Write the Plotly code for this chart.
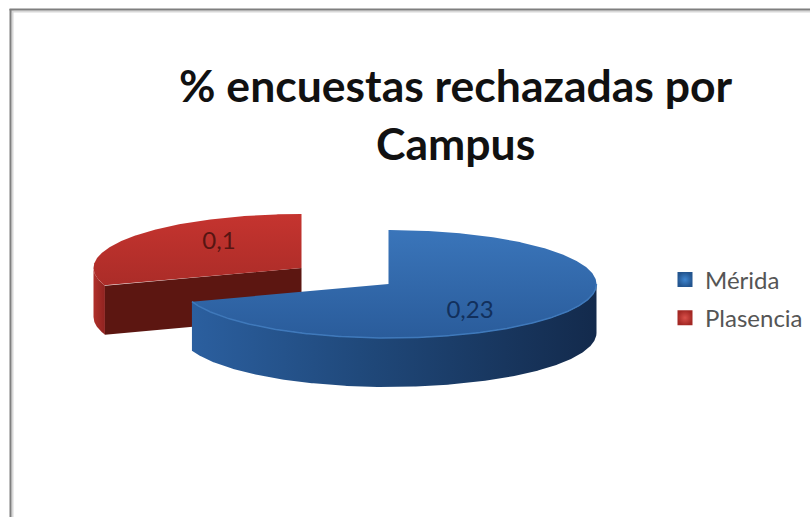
import math
import plotly.graph_objects as go

categories = ["Mérida", "Plasencia"]
values = [0.23, 0.1]
title_lines = ["% encuestas rechazadas por", "Campus"]

# Oblique-view pie geometry, in the pixel space of the hidden axes
RX, RY, DEPTH = 208, 54, 49
CENTERS = [(388.5, 284), (301.5, 268)]
LABEL_POS = [(470, 312), (219, 243)]
TOP_SCALES = [
    [[0, "#2a5c9b"], [1, "#3a75ba"]],
    [[0, "#ab2c28"], [1, "#c5342f"]],
]
WALL_SCALES = [
    [[0, "#2b5f9f"], [0.45, "#1f4778"], [1, "#132a4c"]],
    [[0, "#b0302b"], [1, "#8f2320"]],
]
CUT_COLOR = "#5c1611"
LEGEND_COLORS = ["#23558f", "#a32824"]
LEGEND_CENTERS = ["#3f86d0", "#d9504a"]
LABEL_COLORS = ["#12305c", "#571512"]

total = sum(values)
spans = []
start = 0.0
for v in values:
    spans.append((start, start + 360.0 * v / total))
    start += 360.0 * v / total


def pt(c, a, dz=0):
    r = math.radians(a)
    return c[0] + RX * math.sin(r), c[1] - RY * math.cos(r) + dz


def arc(c, a0, a1, dz=0):
    n = max(2, int(abs(a1 - a0)) * 2)
    pts = [pt(c, a0 + (a1 - a0) * i / n, dz) for i in range(n + 1)]
    return [p[0] for p in pts], [p[1] for p in pts]


def poly(xs, ys, **kw):
    return go.Scatter(x=xs, y=ys, mode="lines", fill="toself", line=dict(width=0),
                      hoverinfo="skip", showlegend=False, **kw)


fig = go.Figure()

# Plasencia (behind)
c = CENTERS[1]
a0, a1 = spans[1]
wa = arc(c, a0, 270)
wb = arc(c, 270, a0, DEPTH)
fig.add_trace(poly(wa[0] + wb[0], wa[1] + wb[1],
                   fillgradient=dict(type="horizontal", colorscale=WALL_SCALES[1])))
p = pt(c, a0)
fig.add_trace(poly([c[0], p[0], p[0], c[0]], [c[1], p[1], p[1] + DEPTH, c[1] + DEPTH],
                   fillcolor=CUT_COLOR))
ax, ay = arc(c, a0, a1)
fig.add_trace(poly([c[0]] + ax + [c[0]], [c[1]] + ay + [c[1]],
                   fillgradient=dict(type="vertical", colorscale=TOP_SCALES[1])))

# Mérida (front)
c = CENTERS[0]
a0, a1 = spans[0]
wa = arc(c, 90, a1)
wb = arc(c, a1, 90, DEPTH)
fig.add_trace(poly(wb[0] + wa[0], wb[1] + wa[1],
                   fillgradient=dict(type="horizontal", colorscale=WALL_SCALES[0])))
ax, ay = arc(c, a0, a1)
fig.add_trace(poly([c[0]] + ax + [c[0]], [c[1]] + ay + [c[1]],
                   fillgradient=dict(type="vertical", colorscale=TOP_SCALES[0])))
rx, ry = arc(c, 90, a1)
fig.add_trace(go.Scatter(x=rx, y=ry, mode="lines", line=dict(color="#3f79bb", width=1.5),
                         hoverinfo="skip", showlegend=False))

# Data labels
for v, pos, col in zip(values, LABEL_POS, LABEL_COLORS):
    fig.add_trace(go.Scatter(x=[pos[0]], y=[pos[1]], mode="text", text=[str(v).replace(".", ",")],
                             textfont=dict(family="Lato", size=24, color=col),
                             textposition="middle center", hoverinfo="skip", showlegend=False))

# Legend entries
for name, col, centre in zip(categories, LEGEND_COLORS, LEGEND_CENTERS):
    fig.add_trace(go.Scatter(x=[None], y=[None], mode="markers", name=name, legendgroup=name,
                             marker=dict(symbol="square", size=15, color=col,
                                         gradient=dict(type="radial", color=centre))))

fig.update_layout(
    width=810, height=517, autosize=False,
    margin=dict(l=0, r=0, t=0, b=0),
    paper_bgcolor="white", plot_bgcolor="white",
    xaxis=dict(range=[0, 810], visible=False, fixedrange=True),
    yaxis=dict(range=[517, 0], visible=False, fixedrange=True),
    title=dict(text="<br>".join(title_lines), x=0.5625, xanchor="center", y=0.803, yanchor="middle",
               font=dict(family="Lato", size=44.5, color="#111111", weight="bold")),
    legend=dict(x=665 / 810, xanchor="left", y=1 - 299 / 517, yanchor="middle", bgcolor="rgba(0,0,0,0)",
                font=dict(family="Lato", size=24, color="#555555"), tracegroupgap=4,
                itemwidth=30),
    shapes=[
        dict(type="line", xref="paper", yref="paper", x0=10 / 810, x1=1, y0=1 - 11.5 / 517, y1=1 - 11.5 / 517,
             line=dict(color="#d8d8d8", width=2)),
        dict(type="line", xref="paper", yref="paper", x0=12.5 / 810, x1=12.5 / 810, y0=0, y1=1 - 10 / 517,
             line=dict(color="#d8d8d8", width=2)),
        dict(type="line", xref="paper", yref="paper", x0=9.5 / 810, x1=1, y0=1 - 9.5 / 517, y1=1 - 9.5 / 517,
             line=dict(color="#7f7f7f", width=2)),
        dict(type="line", xref="paper", yref="paper", x0=10.5 / 810, x1=10.5 / 810, y0=0, y1=1 - 9 / 517,
             line=dict(color="#7f7f7f", width=2)),
    ],
)
fig.write_html("out.html", config={"displayModeBar": False},
               post_script="document.body.style.margin='0';")
